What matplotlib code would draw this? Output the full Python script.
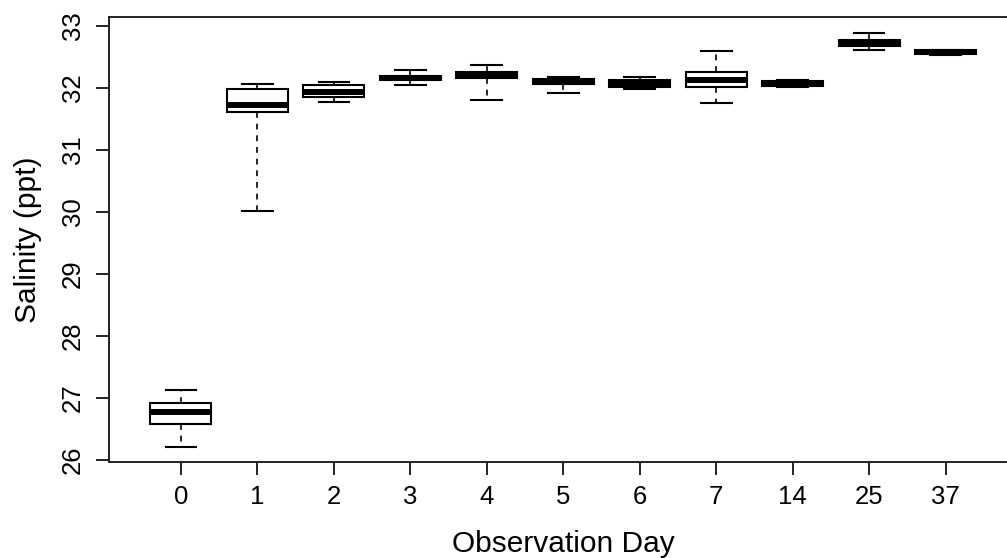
import matplotlib
matplotlib.use("Agg")
import matplotlib.pyplot as plt

# salinity box stats per observation day
days = ["0", "1", "2", "3", "4", "5", "6", "7", "14", "25", "37"]
whislo = [26.21, 30.01, 31.77, 32.04, 31.80, 31.91, 31.99, 31.75, 32.01, 32.62, 32.53]
q1     = [26.57, 31.61, 31.85, 32.12, 32.16, 32.07, 32.02, 32.02, 32.03, 32.67, 32.55]
med    = [26.76, 31.73, 31.94, 32.16, 32.20, 32.10, 32.07, 32.13, 32.07, 32.72, 32.58]
q3     = [26.91, 31.98, 32.04, 32.20, 32.25, 32.15, 32.12, 32.25, 32.11, 32.77, 32.61]
whishi = [27.12, 32.07, 32.10, 32.29, 32.37, 32.17, 32.17, 32.60, 32.12, 32.89, 32.61]

stats = []
for i in range(len(days)):
    stats.append(dict(label=days[i], whislo=whislo[i], q1=q1[i], med=med[i],
                      q3=q3[i], whishi=whishi[i], fliers=[]))

plt.rcParams["font.family"] = ["Liberation Sans", "DejaVu Sans"]

fig = plt.figure(figsize=(10.07, 5.58), dpi=100)
ax = fig.add_axes([0.1082, 0.1715, 0.9023, 0.7986])

pos = list(range(1, len(days) + 1))
ax.bxp(stats, positions=pos, widths=0.8, patch_artist=True, showfliers=False,
       boxprops=dict(facecolor="white", edgecolor="black", linewidth=1.5),
       medianprops=dict(color="black", linewidth=4.3, solid_capstyle="butt"),
       whiskerprops=dict(color="black", linewidth=1.2, linestyle=(0, (3.5, 3.5))),
       capprops=dict(color="black", linewidth=1.5))

ax.set_xlim(0.06, 11.94)
ax.set_ylim(25.955, 33.15)
ax.set_xticks(pos)
ax.set_xticklabels(days)
ax.set_yticks(range(26, 34))
ax.tick_params(axis="both", labelsize=18.5, length=9.5, width=1.2, color="black")
ax.tick_params(axis="x", pad=7)
ax.tick_params(axis="y", pad=8)
for lab in ax.get_yticklabels():
    lab.set_rotation(90)
    lab.set_va("center")

for s in ax.spines.values():
    s.set_linewidth(1.4)
    s.set_color("#222222")

ax.set_xlabel("Observation Day", fontsize=21.5, va="baseline")
ax.xaxis.set_label_coords(0.5, -0.2006)
ax.set_ylabel("Salinity (ppt)", fontsize=21.5, va="center")
ax.yaxis.set_label_coords(-0.089, 0.5)

plt.savefig("out.png", dpi=100)
